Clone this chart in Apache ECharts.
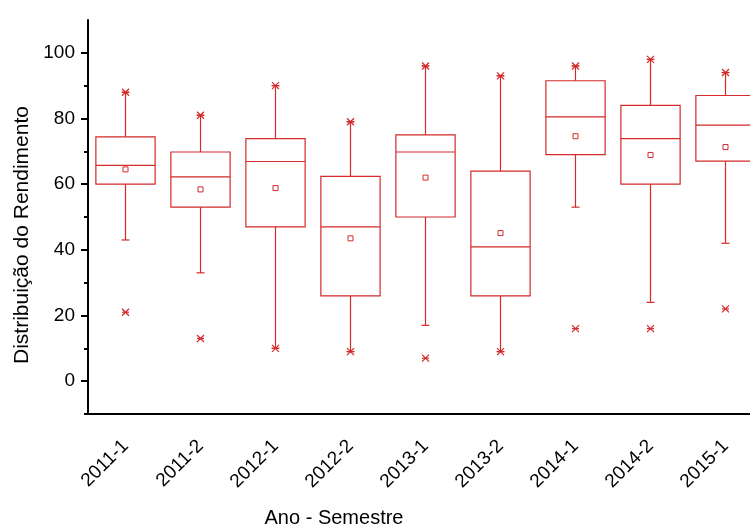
<!DOCTYPE html>
<html>
<head>
<meta charset="utf-8">
<script src="https://cdn.jsdelivr.net/npm/echarts@6/dist/echarts.min.js"></script>
<style>
html,body{margin:0;padding:0;background:#fff;}
#chart{width:750px;height:530px;}
</style>
</head>
<body>
<div id="chart"></div>
<script>
// ---- Data ----
const categories = ['2011-1','2011-2','2012-1','2012-2','2013-1','2013-2','2014-1','2014-2','2015-1'];
const whiskerLow  = [43, 33, 10, 9, 17, 9, 53, 24, 42];
const q1          = [60, 53, 47, 26, 50, 26, 69, 60, 67];
const median      = [65.7, 62.2, 66.9, 47, 69.8, 40.9, 80.5, 73.9, 78];
const q3          = [74.4, 69.8, 73.9, 62.4, 75, 64, 91.5, 84, 87];
const whiskerHigh = [88, 81, 90, 79, 96, 93, 96, 98, 94];
const meanVal     = [64.5, 58.4, 58.8, 43.5, 62, 45.1, 74.6, 68.9, 71.3];
const minVal      = [21, 13, 10, 9, 7, 9, 16, 16, 22];
const maxVal      = [88, 81, 90, 79, 96, 93, 96, 98, 94];
const yMajorTicks = [0, 20, 40, 60, 80, 100];
const yMinorTicks = [-10, 10, 30, 50, 70, 90];

const RED = '#d42a2a';
const FONT = 'Liberation Sans, Arial, sans-serif';

const rows = categories.map((c, i) => [i, whiskerLow[i], q1[i], median[i], q3[i], whiskerHigh[i], meanVal[i], minVal[i], maxVal[i]]);

function renderBox(params, api) {
  const idx = api.value(0);
  const cx = api.coord([idx, 0])[0];
  const Y = v => api.coord([idx, v])[1];
  const half = api.size([1, 0])[0] * 0.395;
  const low = api.value(1), a = api.value(2), med = api.value(3), b = api.value(4), high = api.value(5);
  const mean = api.value(6), mn = api.value(7), mx = api.value(8);
  const ls = {stroke: RED, lineWidth: 1.2, fill: null};
  const line = (x1, y1, x2, y2) => ({type: 'line', shape: {x1, y1, x2, y2}, style: ls});
  const children = [];
  children.push({type: 'rect', shape: {x: cx - half, y: Y(b), width: 2 * half, height: Y(a) - Y(b)}, style: {stroke: RED, lineWidth: 1.2, fill: 'none'}});
  children.push(line(cx - half, Y(med), cx + half, Y(med)));
  children.push(line(cx, Y(b), cx, Y(high)));
  children.push(line(cx, Y(a), cx, Y(low)));
  children.push(line(cx - 4, Y(high), cx + 4, Y(high)));
  children.push(line(cx - 4, Y(low), cx + 4, Y(low)));
  const ym = Y(mean);
  children.push({type: 'rect', shape: {x: cx - 2.5, y: ym - 2.5, width: 5, height: 5}, style: {stroke: RED, lineWidth: 1, fill: 'none'}});
  [mn, mx].forEach(v => {
    const yy = Y(v);
    children.push(line(cx - 3.5, yy - 3.5, cx + 3.5, yy + 3.5));
    children.push(line(cx - 3.5, yy + 3.5, cx + 3.5, yy - 3.5));
    children.push(line(cx - 3.5, yy, cx + 3.5, yy));
  });
  return {type: 'group', children};
}

const chart = echarts.init(document.getElementById('chart'), null, {renderer: 'canvas'});
chart.setOption({
  animation: false,
  backgroundColor: '#fff',
  grid: {left: 88, top: 20, width: 675, height: 394, containLabel: false, outerBoundsMode: 'none'},
  xAxis: {
    type: 'category',
    data: categories,
    boundaryGap: true,
    axisLine: {onZero: false, lineStyle: {color: '#000', width: 2}},
    axisTick: {alignWithLabel: true, length: 9, lineStyle: {color: '#000', width: 2}},
    axisLabel: {rotate: 45, fontSize: 19, color: '#000', fontFamily: FONT, margin: 29, interval: 0},
    splitLine: {show: false}
  },
  yAxis: [{
    type: 'value',
    min: -10, max: 110,
    axisLine: {show: true, lineStyle: {color: '#000', width: 2}},
    axisTick: {show: true, length: 7, customValues: yMajorTicks, lineStyle: {color: '#000', width: 2}},
    axisLabel: {fontSize: 19, color: '#000', fontFamily: FONT, margin: 13, customValues: yMajorTicks},
    splitLine: {show: false}
  }, {
    type: 'value',
    min: -10, max: 110,
    position: 'left',
    axisLine: {show: false},
    axisTick: {show: true, length: 4, customValues: yMinorTicks, lineStyle: {color: '#000', width: 2}},
    axisLabel: {show: false},
    splitLine: {show: false}
  }],
  graphic: [
    {type: 'text', x: 334, y: 518, style: {text: 'Ano - Semestre', font: '20px ' + FONT, fill: '#000', align: 'center', verticalAlign: 'middle'}},
    {type: 'text', x: 22, y: 235, rotation: Math.PI / 2, style: {text: 'Distribuição do Rendimento', font: '21px ' + FONT, fill: '#000', align: 'center', verticalAlign: 'middle'}}
  ],
  series: [{
    type: 'custom',
    renderItem: renderBox,
    data: rows,
    encode: {x: 0, y: [1, 2, 3, 4, 5, 6, 7, 8]},
    clip: false,
    silent: true
  }]
});
</script>
</body>
</html>
